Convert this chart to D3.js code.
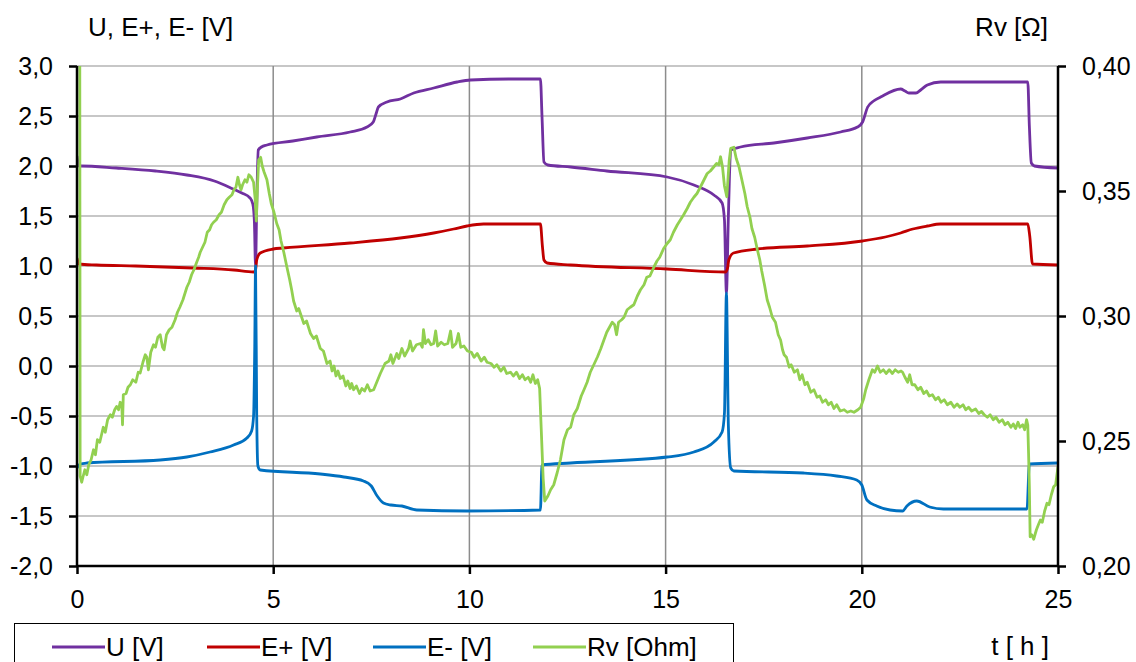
<!DOCTYPE html>
<html><head><meta charset="utf-8">
<script src="https://cdn.jsdelivr.net/npm/d3@7"></script>
<style>
html,body{margin:0;padding:0;background:#fff;}
svg{display:block;font-family:"Liberation Sans",Arial,sans-serif;}
</style></head>
<body>
<svg id="chart" width="1136" height="662"></svg>
<script>
// ---- data ----
const xTicks = [0, 5, 10, 15, 20, 25];
const yLeftTicks = [3.0, 2.5, 2.0, 1.5, 1.0, 0.5, 0.0, -0.5, -1.0, -1.5, -2.0];
const yRightTicks = [0.40, 0.35, 0.30, 0.25, 0.20];
const seriesNames = ["U [V]", "E+ [V]", "E- [V]", "Rv [Ohm]"];
const seriesColors = ["#7030A0", "#C00000", "#0070C0", "#92D050"];

const uData = [[0,2.10],[0.05,2.00],[0.1,2.00],[1.0,1.98],[2.0,1.95],[2.8,1.91],[3.5,1.85],[3.98,1.77],[4.2,1.73],[4.41,1.68],[4.48,1.62],[4.52,1.45],[4.55,1.00],[4.58,1.60],[4.62,2.16],[4.7,2.19],[4.84,2.21],[5.5,2.25],[6.11,2.29],[6.96,2.34],[7.39,2.39],[7.55,2.44],[7.62,2.52],[7.68,2.59],[7.9,2.64],[8.24,2.67],[8.58,2.73],[9.09,2.78],[9.69,2.84],[10.03,2.86],[11.0,2.87],[11.81,2.87],[11.85,2.50],[11.9,2.04],[12.0,2.01],[12.58,1.99],[13.5,1.95],[15.04,1.89],[15.72,1.81],[16.23,1.71],[16.44,1.63],[16.5,1.46],[16.55,0.73],[16.6,1.50],[16.66,2.16],[16.91,2.19],[17.76,2.23],[18.61,2.28],[19.46,2.34],[19.89,2.39],[20.02,2.44],[20.15,2.59],[20.3,2.65],[20.48,2.69],[20.99,2.77],[21.1,2.75],[21.2,2.73],[21.38,2.73],[21.5,2.76],[21.67,2.81],[22.01,2.84],[22.7,2.84],[24.23,2.84],[24.27,2.40],[24.32,2.03],[24.4,2.00],[25,1.98]];

const ePlusData = [[0,1.08],[0.05,1.02],[0.5,1.01],[1.5,1.00],[2.96,0.98],[4.0,0.96],[4.5,0.94],[4.55,0.96],[4.58,1.06],[4.67,1.13],[5.0,1.17],[5.26,1.18],[6.96,1.23],[8.24,1.28],[9.09,1.33],[9.6,1.37],[9.94,1.40],[10.36,1.42],[11.81,1.42],[11.86,1.20],[11.9,1.06],[11.98,1.03],[12.58,1.01],[15.04,0.97],[16.53,0.94],[16.58,0.98],[16.61,1.06],[16.73,1.13],[17.34,1.17],[18.61,1.20],[20.02,1.25],[20.6,1.29],[20.99,1.33],[21.3,1.37],[21.67,1.40],[22.0,1.42],[24.23,1.42],[24.28,1.30],[24.35,1.02],[25,1.01]];

const eMinusData = [[0,-1.02],[0.08,-0.98],[0.25,-0.97],[2.12,-0.94],[2.8,-0.91],[3.39,-0.86],[3.99,-0.79],[4.33,-0.72],[4.45,-0.65],[4.5,-0.50],[4.53,0.20],[4.55,1.00],[4.58,-0.50],[4.61,-1.00],[4.67,-1.04],[6.2,-1.08],[6.8,-1.11],[7.3,-1.15],[7.5,-1.20],[7.65,-1.30],[7.81,-1.37],[8.0,-1.39],[8.28,-1.40],[8.66,-1.44],[9.94,-1.45],[11.81,-1.44],[11.85,-0.99],[12.58,-0.97],[15.04,-0.91],[15.72,-0.86],[16.23,-0.76],[16.44,-0.66],[16.5,-0.47],[16.55,0.73],[16.6,-0.60],[16.66,-1.02],[16.74,-1.05],[18.51,-1.07],[19.36,-1.10],[19.87,-1.14],[20.0,-1.19],[20.13,-1.34],[20.38,-1.40],[20.72,-1.44],[21.04,-1.45],[21.15,-1.40],[21.4,-1.35],[21.73,-1.41],[22.08,-1.43],[24.21,-1.43],[24.27,-0.98],[25,-0.97]];

const rvData = [[0.07,0.42],[0.08,0.236],[0.12,0.2335],[0.15,0.2355],[0.2,0.2385],[0.25,0.2365],[0.3,0.2405],[0.36,0.2425],[0.42,0.2465],[0.47,0.2445],[0.52,0.2505],[0.58,0.2495],[0.67,0.2555],[0.72,0.2535],[0.78,0.2585],[0.85,0.2605],[0.9,0.2595],[0.96,0.2625],[1.01,0.2638],[1.06,0.2625],[1.1,0.2655],[1.14,0.265],[1.16,0.2565],[1.18,0.2685],[1.25,0.269],[1.3,0.2715],[1.36,0.2725],[1.42,0.2745],[1.5,0.2735],[1.56,0.2775],[1.61,0.2772],[1.68,0.2815],[1.74,0.2845],[1.78,0.2835],[1.82,0.2785],[1.88,0.2855],[1.95,0.2885],[2.0,0.2875],[2.06,0.2915],[2.12,0.2925],[2.18,0.2875],[2.22,0.2865],[2.28,0.2925],[2.35,0.2945],[2.42,0.2955],[2.5,0.2985],[2.56,0.3015],[2.62,0.3035],[2.7,0.3065],[2.76,0.3095],[2.8,0.3115],[2.86,0.3135],[2.92,0.3165],[2.98,0.3185],[3.05,0.3215],[3.1,0.3235],[3.14,0.3255],[3.2,0.3275],[3.26,0.3295],[3.32,0.3335],[3.38,0.3345],[3.43,0.3365],[3.48,0.3375],[3.55,0.3385],[3.62,0.3405],[3.68,0.3415],[3.75,0.3445],[3.82,0.3465],[3.88,0.3475],[3.95,0.3485],[4.0,0.3505],[4.05,0.3515],[4.1,0.3555],[4.14,0.3525],[4.18,0.3505],[4.22,0.3525],[4.28,0.3545],[4.33,0.3535],[4.38,0.3565],[4.44,0.3555],[4.5,0.3535],[4.54,0.347],[4.57,0.338],[4.6,0.352],[4.63,0.3625],[4.68,0.3635],[4.72,0.360],[4.77,0.3575],[4.84,0.3545],[4.9,0.349],[4.95,0.345],[5.02,0.3415],[5.09,0.337],[5.15,0.3345],[5.2,0.330],[5.27,0.3255],[5.35,0.3195],[5.42,0.3145],[5.47,0.3105],[5.52,0.306],[5.6,0.302],[5.65,0.303],[5.78,0.297],[5.85,0.298],[5.95,0.293],[6.03,0.291],[6.1,0.292],[6.2,0.287],[6.28,0.286],[6.37,0.281],[6.45,0.282],[6.5,0.278],[6.55,0.280],[6.6,0.276],[6.65,0.278],[6.71,0.275],[6.78,0.276],[6.85,0.272],[6.9,0.274],[6.96,0.271],[7.0,0.273],[7.05,0.2705],[7.12,0.272],[7.2,0.269],[7.26,0.271],[7.33,0.270],[7.4,0.2725],[7.47,0.270],[7.56,0.2705],[7.73,0.277],[7.85,0.281],[7.95,0.282],[8.0,0.2845],[8.05,0.281],[8.15,0.285],[8.2,0.283],[8.28,0.287],[8.35,0.284],[8.45,0.287],[8.49,0.290],[8.55,0.286],[8.65,0.2885],[8.75,0.289],[8.8,0.2875],[8.83,0.2945],[8.88,0.289],[8.95,0.2905],[9.02,0.2885],[9.09,0.289],[9.14,0.294],[9.19,0.288],[9.28,0.2895],[9.36,0.2885],[9.45,0.289],[9.52,0.294],[9.57,0.2875],[9.66,0.289],[9.72,0.293],[9.78,0.2875],[9.86,0.288],[9.95,0.286],[10.05,0.2855],[10.12,0.2835],[10.2,0.285],[10.3,0.282],[10.38,0.2835],[10.45,0.2815],[10.55,0.281],[10.63,0.2795],[10.7,0.2805],[10.8,0.278],[10.88,0.2795],[10.95,0.277],[11.05,0.2775],[11.12,0.276],[11.2,0.2775],[11.28,0.275],[11.35,0.2765],[11.42,0.2745],[11.5,0.2755],[11.56,0.2735],[11.62,0.2765],[11.68,0.273],[11.74,0.2745],[11.79,0.271],[11.83,0.255],[11.88,0.235],[11.92,0.226],[12.0,0.228],[12.07,0.2305],[12.15,0.2325],[12.24,0.2375],[12.32,0.2425],[12.41,0.2505],[12.5,0.2545],[12.58,0.2555],[12.66,0.2605],[12.75,0.263],[12.85,0.268],[12.92,0.2705],[13.0,0.2735],[13.08,0.2775],[13.17,0.2805],[13.26,0.2835],[13.35,0.287],[13.43,0.2905],[13.5,0.2935],[13.57,0.2955],[13.64,0.2975],[13.7,0.2965],[13.75,0.2925],[13.8,0.2975],[13.88,0.2985],[13.94,0.2995],[14.02,0.3025],[14.1,0.3035],[14.19,0.3045],[14.28,0.308],[14.36,0.3105],[14.45,0.3125],[14.52,0.3155],[14.6,0.316],[14.7,0.3195],[14.78,0.322],[14.85,0.3235],[14.95,0.327],[15.04,0.329],[15.12,0.3305],[15.2,0.3335],[15.3,0.3365],[15.38,0.3385],[15.46,0.3405],[15.55,0.343],[15.63,0.3455],[15.72,0.3475],[15.8,0.349],[15.9,0.352],[15.98,0.3545],[16.06,0.357],[16.14,0.358],[16.22,0.3595],[16.3,0.361],[16.36,0.3605],[16.4,0.3637],[16.45,0.3597],[16.5,0.352],[16.56,0.3477],[16.62,0.362],[16.66,0.3671],[16.74,0.3675],[16.8,0.363],[16.87,0.3597],[16.95,0.354],[17.02,0.349],[17.08,0.3437],[17.15,0.3395],[17.2,0.335],[17.27,0.3315],[17.34,0.3264],[17.4,0.3225],[17.45,0.318],[17.52,0.3125],[17.59,0.3064],[17.65,0.3035],[17.72,0.2995],[17.8,0.2975],[17.87,0.2925],[17.93,0.2904],[17.98,0.2865],[18.02,0.2845],[18.08,0.2835],[18.15,0.2795],[18.2,0.2805],[18.28,0.2775],[18.36,0.2785],[18.42,0.2745],[18.48,0.2765],[18.55,0.2725],[18.61,0.2735],[18.7,0.2695],[18.78,0.2705],[18.86,0.2675],[18.93,0.268],[19.0,0.2655],[19.08,0.2665],[19.15,0.2645],[19.22,0.2655],[19.29,0.263],[19.36,0.2645],[19.45,0.262],[19.55,0.2625],[19.63,0.2615],[19.72,0.262],[19.8,0.2615],[19.9,0.2625],[19.97,0.2635],[20.05,0.267],[20.1,0.2705],[20.18,0.2745],[20.27,0.2785],[20.33,0.2775],[20.4,0.280],[20.47,0.2775],[20.55,0.2785],[20.62,0.277],[20.7,0.2785],[20.78,0.277],[20.85,0.2785],[20.93,0.2775],[21.0,0.278],[21.04,0.2775],[21.1,0.2755],[21.17,0.2735],[21.22,0.2765],[21.28,0.2725],[21.35,0.2725],[21.43,0.2705],[21.5,0.2715],[21.58,0.269],[21.65,0.270],[21.72,0.268],[21.8,0.2685],[21.88,0.2665],[21.95,0.2675],[22.02,0.2655],[22.1,0.2665],[22.18,0.2645],[22.27,0.2655],[22.35,0.2635],[22.43,0.2648],[22.5,0.2635],[22.58,0.2645],[22.65,0.2625],[22.72,0.2635],[22.8,0.262],[22.9,0.2628],[22.98,0.261],[23.05,0.2618],[23.12,0.2605],[23.2,0.2595],[23.27,0.2605],[23.35,0.2585],[23.42,0.2595],[23.5,0.2575],[23.58,0.2585],[23.65,0.2565],[23.72,0.2575],[23.8,0.2555],[23.86,0.2568],[23.92,0.255],[23.98,0.2575],[24.03,0.2555],[24.1,0.2565],[24.15,0.2545],[24.2,0.2585],[24.23,0.2564],[24.25,0.245],[24.27,0.2317],[24.29,0.2117],[24.33,0.2125],[24.38,0.2107],[24.45,0.2145],[24.5,0.2165],[24.55,0.2184],[24.6,0.2175],[24.66,0.222],[24.72,0.2251],[24.77,0.2245],[24.83,0.2285],[24.89,0.2317],[24.94,0.2325],[25,0.2397]];

// ---- layout ----
const svg = d3.select("#chart");
const L = 77, R = 1058, T = 66, B = 566;
const x = d3.scaleLinear().domain([0, 25]).range([L, R]);
const yL = d3.scaleLinear().domain([-2, 3]).range([B, T]);
const yR = d3.scaleLinear().domain([0.20, 0.40]).range([B, T]);
const fmt1 = d3.format(".1f"), fmt2 = d3.format(".2f");
const comma = s => s.replace(".", ",").replace("\u2212", "-");
const FONT = 25, FONT2 = 26;

// grid
svg.append("g").selectAll("line").data(yLeftTicks).join("line")
  .attr("x1", L).attr("x2", R).attr("y1", d => yL(d)).attr("y2", d => yL(d))
  .attr("stroke", "#b4b4b4").attr("stroke-width", 1.5);
svg.append("g").selectAll("line").data(xTicks.filter(d => d > 0 && d < 25)).join("line")
  .attr("x1", d => x(d)).attr("x2", d => x(d)).attr("y1", T).attr("y2", B)
  .attr("stroke", "#8c8c8c").attr("stroke-width", 1.5);

// clip
svg.append("clipPath").attr("id", "clip").append("rect")
  .attr("x", L).attr("y", T).attr("width", R - L).attr("height", B - T);

// lines
const g = svg.append("g").attr("clip-path", "url(#clip)");
const lineL = d3.line().x(d => x(d[0])).y(d => yL(d[1])).curve(d3.curveMonotoneX);
const lineR = d3.line().x(d => x(d[0])).y(d => yR(d[1]));
[[uData, 0], [ePlusData, 1], [eMinusData, 2]].forEach(([data, i]) => {
  g.append("path").datum(data).attr("d", lineL).attr("fill", "none")
    .attr("stroke", seriesColors[i]).attr("stroke-width", 2.8).attr("stroke-linejoin", "round");
});
g.append("path").datum(rvData).attr("d", lineR).attr("fill", "none")
  .attr("stroke", seriesColors[3]).attr("stroke-width", 2.8).attr("stroke-linejoin", "round");

// axes
const axL = svg.append("g").attr("transform", `translate(${L},0)`)
  .call(d3.axisLeft(yL).tickValues(yLeftTicks).tickSize(8).tickPadding(16).tickFormat(d => comma(fmt1(d))));
const axR = svg.append("g").attr("transform", `translate(${R},0)`)
  .call(d3.axisRight(yR).tickValues(yRightTicks).tickSize(8).tickPadding(16).tickFormat(d => comma(fmt2(d))));
const axB = svg.append("g").attr("transform", `translate(0,${B})`)
  .call(d3.axisBottom(x).tickValues(xTicks).tickSize(8).tickPadding(16).tickFormat(d3.format("d")));
[axL, axR, axB].forEach(a => {
  a.select(".domain").attr("stroke", "#000").attr("stroke-width", 2.5);
  a.selectAll(".tick line").attr("stroke", "#000").attr("stroke-width", 2.5);
  a.selectAll(".tick text").attr("fill", "#000").attr("font-size", FONT)
    .attr("font-family", "Liberation Sans, Arial, sans-serif");
});
axB.select(".domain").attr("d", `M${L},0H${R}`);
axL.select(".domain").attr("d", `M0,${T}V${B}`);
axR.select(".domain").attr("d", `M0,${T}V${B}`);

// titles
svg.append("text").attr("x", 88).attr("y", 36).attr("font-size", FONT2).text("U, E+, E- [V]");
svg.append("text").attr("x", 1048).attr("y", 36).attr("font-size", FONT2).attr("text-anchor", "end").text("Rv [Ω]");
svg.append("text").attr("x", 1049).attr("y", 655).attr("font-size", FONT2).attr("text-anchor", "end").text("t [ h ]");

// legend
svg.append("rect").attr("x", 14.5).attr("y", 623.5).attr("width", 719).attr("height", 60)
  .attr("fill", "#fff").attr("stroke", "#000").attr("stroke-width", 1);
const legX = [52, 207, 373, 533];
const lg = svg.append("g").selectAll("g").data(seriesNames).join("g")
  .attr("transform", (d, i) => `translate(${legX[i]},647)`);
lg.append("line").attr("x1", 0).attr("x2", 53).attr("y1", 0).attr("y2", 0)
  .attr("stroke", (d, i) => seriesColors[i]).attr("stroke-width", 2.8);
lg.append("text").attr("x", 54).attr("y", 9).attr("font-size", FONT2).text(d => d);
</script>
</body></html>
